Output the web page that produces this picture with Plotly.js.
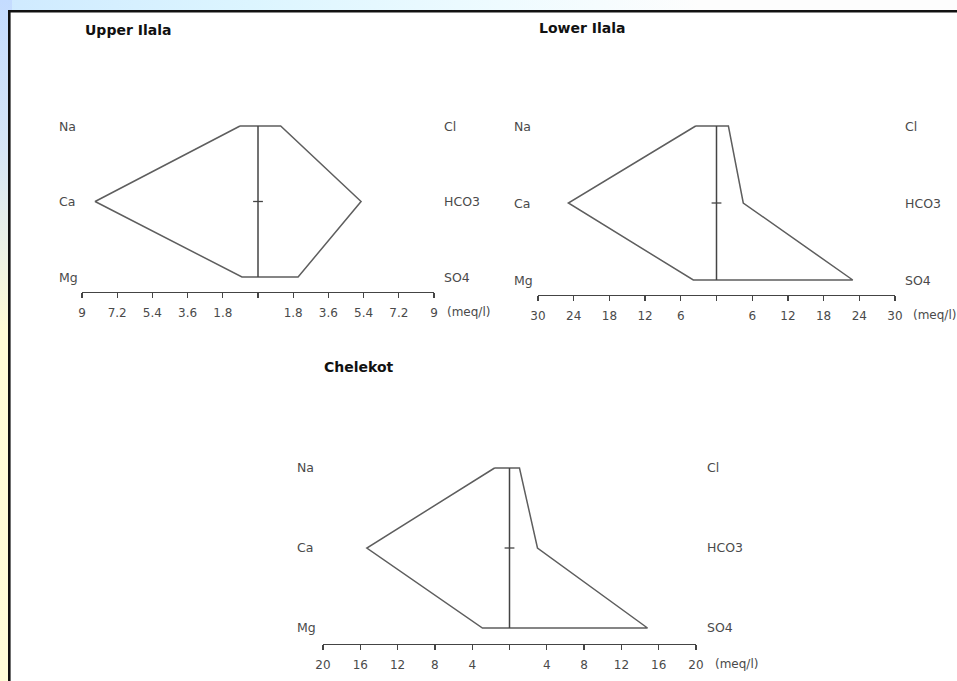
<!DOCTYPE html>
<html>
<head>
<meta charset="utf-8">
<script src="https://cdn.plot.ly/plotly-3.0.1.min.js"></script>
<style>
  html, body { margin: 0; padding: 0; }
  body { width: 957px; height: 681px; overflow: hidden; position: relative;
         background: linear-gradient(to right, #cfeaff 0px, #dcf5ff 250px, #eefbff 500px, #fdfdfd 700px); }
  #strip { position: absolute; left: 0; top: 0; width: 12px; height: 681px;
           background: linear-gradient(to bottom, #c4dcff 0px, #d6e6f6 150px, #eef3e4 260px, #fffcd6 330px, #fffdd8 681px); }
  #chart { position: absolute; left: 0; top: 0; width: 957px; height: 681px; }
</style>
</head>
<body>
<div id="strip"></div>
<div id="chart"></div>
<script>
// ---- data (meq/l) ----
const sites = ['Upper Ilala', 'Lower Ilala', 'Chelekot'];
const cationLabels = ['Na', 'Ca', 'Mg'];
const anionLabels = ['Cl', 'HCO3', 'SO4'];
const naVals   = [0.92, 3.5, 1.6];
const caVals   = [8.33, 24.9, 15.3];
const mgVals   = [0.82, 3.9, 2.9];
const clVals   = [1.16, 2.0, 1.07];
const hco3Vals = [5.27, 4.5, 3.0];
const so4Vals  = [2.05, 22.9, 14.8];
const scaleMax = [9, 30, 20];
const tickVals1 = [-9, -7.2, -5.4, -3.6, -1.8, 0, 1.8, 3.6, 5.4, 7.2, 9];
const tickVals2 = [-30, -24, -18, -12, -6, 0, 6, 12, 18, 24, 30];
const tickVals3 = [-20, -16, -12, -8, -4, 0, 4, 8, 12, 16, 20];
const unitLabel = '(meq/l)';
const rowY = [3, 2, 1]; // Na/Cl, Ca/HCO3, Mg/SO4

// ---- layout geometry (pixels) ----
const W = 957, H = 681;
const panels = [
  {axL: 82,  axR: 434, rowTop: 126, rowBot: 277, axisY: 292, labL: 57,  labR: 442, titleX: 83,  titleY: 30,  unitX: 445},
  {axL: 538, axR: 895, rowTop: 126, rowBot: 280, axisY: 295, labL: 512, labR: 903, titleX: 537, titleY: 28,  unitX: 911},
  {axL: 323, axR: 696, rowTop: 468, rowBot: 628, axisY: 644, labL: 295, labR: 705, titleX: 322, titleY: 367, unitX: 713}
];
const tickSets = [tickVals1, tickVals2, tickVals3];
const pad = 0.12;
const px = v => v / W;
const py = v => 1 - v / H;

const labelFont = {family: 'DejaVu Sans, Arial, sans-serif', size: 12.5, color: '#4a4a4a'};
const tickFont  = {family: 'DejaVu Sans, Arial, sans-serif', size: 12, color: '#4a4a4a'};
const titleFont = {family: 'DejaVu Sans, Arial, sans-serif', size: 14, color: '#111111', weight: 'bold'};

const traces = [];
const layout = {
  width: W, height: H,
  margin: {l: 0, r: 0, t: 0, b: 0, pad: 0},
  paper_bgcolor: 'rgba(0,0,0,0)',
  plot_bgcolor: 'rgba(0,0,0,0)',
  showlegend: false,
  annotations: [],
  shapes: [{
    type: 'rect', xref: 'paper', yref: 'paper', layer: 'below',
    x0: px(9.3), x1: 1.02, y0: -0.02, y1: py(11.3),
    fillcolor: '#ffffff', line: {color: '#111111', width: 2.6}
  }]
};

sites.forEach((site, i) => {
  const p = panels[i];
  const k = i === 0 ? '' : String(i + 1);
  const xa = 'x' + k, ya = 'y' + k;
  const unitPx = (p.rowBot - p.rowTop) / 2;
  const padPx = pad * unitPx;
  const ticks = tickSets[i];

  layout['xaxis' + k] = {
    domain: [px(p.axL), px(p.axR)],
    range: [-scaleMax[i], scaleMax[i]],
    anchor: 'free', position: py(p.axisY),
    showline: true, linecolor: '#444444', linewidth: 1.2,
    ticks: 'outside', ticklen: 5, tickwidth: 1.2, tickcolor: '#444444',
    tickvals: ticks,
    ticktext: ticks.map(v => v === 0 ? '' : String(Math.abs(v))),
    tickfont: tickFont, ticklabelstandoff: 4,
    showgrid: false, zeroline: false, fixedrange: true
  };
  layout['yaxis' + k] = {
    domain: [py(p.rowBot + padPx), py(p.rowTop - padPx)],
    range: [1 - pad, 3 + pad],
    anchor: xa, visible: false, showgrid: false, zeroline: false, fixedrange: true
  };

  // Stiff polygon
  traces.push({
    type: 'scatter', mode: 'lines', xaxis: xa, yaxis: ya, hoverinfo: 'skip',
    x: [-naVals[i], -caVals[i], -mgVals[i], so4Vals[i], hco3Vals[i], clVals[i], -naVals[i]],
    y: [rowY[0], rowY[1], rowY[2], rowY[2], rowY[1], rowY[0], rowY[0]],
    line: {color: '#5e5e5e', width: 1.5}, cliponaxis: false
  });
  // centre line
  traces.push({
    type: 'scatter', mode: 'lines', xaxis: xa, yaxis: ya, hoverinfo: 'skip',
    x: [0, 0], y: [rowY[0], rowY[2]],
    line: {color: '#444444', width: 1.5}, cliponaxis: false
  });
  // small cross tick at middle row
  traces.push({
    type: 'scatter', mode: 'markers', xaxis: xa, yaxis: ya, hoverinfo: 'skip',
    x: [0], y: [rowY[1]],
    marker: {symbol: 'line-ew', size: 7, line: {color: '#444444', width: 1.3}}, cliponaxis: false
  });

  // row labels
  cationLabels.forEach((lab, j) => {
    layout.annotations.push({xref: 'paper', yref: ya, x: px(p.labL), y: rowY[j],
      xanchor: 'left', yanchor: 'middle', text: lab, showarrow: false, font: labelFont});
  });
  anionLabels.forEach((lab, j) => {
    layout.annotations.push({xref: 'paper', yref: ya, x: px(p.labR), y: rowY[j],
      xanchor: 'left', yanchor: 'middle', text: lab, showarrow: false, font: labelFont});
  });
  // title
  layout.annotations.push({xref: 'paper', yref: 'paper', x: px(p.titleX), y: py(p.titleY),
    xanchor: 'left', yanchor: 'middle', text: '<b>' + site + '</b>', showarrow: false, font: titleFont});
  // unit label
  layout.annotations.push({xref: 'paper', yref: 'paper', x: px(p.unitX), y: py(p.axisY + 20),
    xanchor: 'left', yanchor: 'middle', text: unitLabel, showarrow: false, font: tickFont});
});

Plotly.newPlot('chart', traces, layout, {staticPlot: true, displayModeBar: false});
</script>
</body>
</html>
